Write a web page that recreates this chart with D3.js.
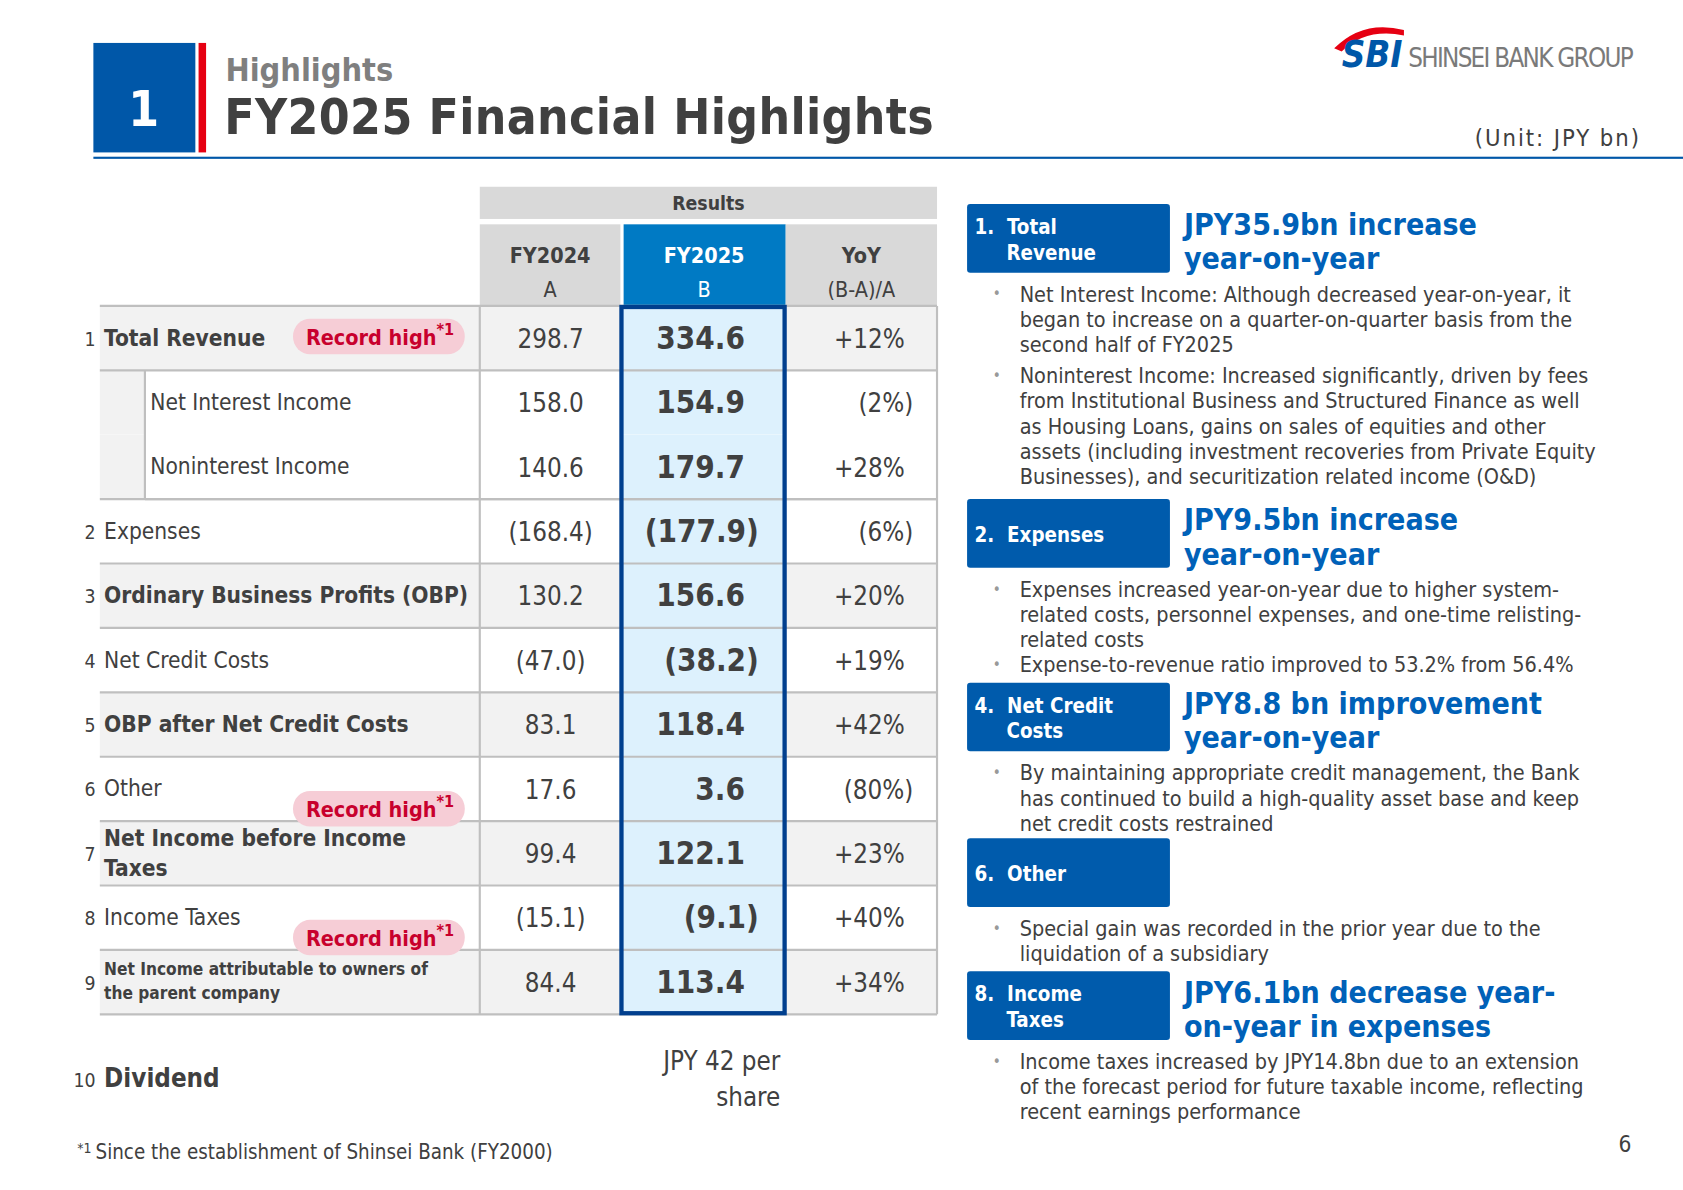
<!DOCTYPE html>
<html><head><meta charset="utf-8">
<script src="https://cdn.jsdelivr.net/npm/d3@7"></script>
<style>body{margin:0;background:#fff}text{font-family:"DejaVu Sans Condensed","DejaVu Sans",sans-serif}</style>
</head><body><svg id="c" width="1683" height="1190"></svg>
<script>
const rowNums=["1","","","2","3","4","5","6","7","8","9"];
const rowLabels=["Total Revenue","Net Interest Income","Noninterest Income","Expenses","Ordinary Business Profits (OBP)","Net Credit Costs","OBP after Net Credit Costs","Other","Net Income before Income|Taxes","Income Taxes","Net Income attributable to owners of|the parent company"];
const rowBold=[1,0,0,0,1,0,1,0,1,0,1];
const fy2024=["298.7","158.0","140.6","(168.4)","130.2","(47.0)","83.1","17.6","99.4","(15.1)","84.4"];
const fy2025=["334.6","154.9","179.7","(177.9)","156.6","(38.2)","118.4","3.6","122.1","(9.1)","113.4"];
const yoy=["+12%","(2%)","+28%","(6%)","+20%","+19%","+42%","(80%)","+23%","+40%","+34%"];
const recordRows=[0,7,9];
const columns=["label","FY2024","FY2025","YoY"];
const notes=[
 {box:["1.  Total","     Revenue"],head:["JPY35.9bn increase","year-on-year"],y:190,gap:5.5,bullets:[["Net Interest Income: Although decreased year-on-year, it","began to increase on a quarter-on-quarter basis from the","second half of FY2025"],["Noninterest Income: Increased significantly, driven by fees","from Institutional Business and Structured Finance as well","as Housing Loans, gains on sales of equities and other","assets (including investment recoveries from Private Equity","Businesses), and securitization related income (O&D)"]]},
 {box:["2.  Expenses"],head:["JPY9.5bn increase","year-on-year"],y:465,gap:0,bullets:[["Expenses increased year-on-year due to higher system-","related costs, personnel expenses, and one-time relisting-","related costs"],["Expense-to-revenue ratio improved to 53.2% from 56.4%"]]},
 {box:["4.  Net Credit","     Costs"],head:["JPY8.8 bn improvement","year-on-year"],y:636,gap:0,bullets:[["By maintaining appropriate credit management, the Bank","has continued to build a high-quality asset base and keep","net credit costs restrained"]]},
 {box:["6.  Other"],head:[],y:781,gap:0,bullets:[["Special gain was recorded in the prior year due to the","liquidation of a subsidiary"]]},
 {box:["8.  Income","     Taxes"],head:["JPY6.1bn decrease year-","on-year in expenses"],y:905,gap:0,bullets:[["Income taxes increased by JPY14.8bn due to an extension","of the forecast period for future taxable income, reflecting","recent earnings performance"]]}
];
const svg=d3.select("#c");
const g=svg.append("g").attr("transform","scale("+(1683/1568)+")");
const txt="#404040";
g.append("rect").attr("x",87).attr("y",40).attr("width",95).attr("height",102).attr("fill","#0057a8");
g.append("rect").attr("x",185).attr("y",40).attr("width",7).attr("height",102).attr("fill","#e60012");
g.append("text").attr("x",134).attr("y",117).attr("text-anchor","middle").attr("fill","#fff").attr("font-size",46).attr("font-weight","bold").text("1");
g.append("text").attr("x",210).attr("y",75).attr("fill","#7f7f7f").attr("font-size",30).attr("font-weight","bold").text("Highlights");
g.append("text").attr("x",209).attr("y",125).attr("fill",txt).attr("font-size",46).attr("font-weight","bold").attr("textLength",661).text("FY2025 Financial Highlights");
g.append("rect").attr("x",87).attr("y",146).attr("width",1481).attr("height",2).attr("fill","#0057a8");
g.append("text").attr("x",1527).attr("y",136).attr("text-anchor","end").attr("fill",txt).attr("font-size",22).attr("textLength",153).text("(Unit: JPY bn)");
g.append("path").attr("d","M1243,45 Q1270,18 1308,28 L1308,33 Q1272,26 1250,48 Z").attr("fill","#e60012");
g.append("text").attr("x",1250).attr("y",62).attr("fill","#0057a8").attr("font-size",34).attr("font-weight","bold").attr("font-style","italic").attr("font-family","Liberation Sans").text("SBI");
g.append("text").attr("x",1312).attr("y",62).attr("fill","#7a7a7a").attr("font-size",24).attr("font-family","Liberation Sans Narrow, Liberation Sans").attr("textLength",210).text("SHINSEI BANK GROUP");
const x=d3.scaleOrdinal().domain(columns).range([93,447,578,732]);
const w={label:354,FY2024:131,FY2025:154,YoY:141};
const y=d3.scaleBand().domain(d3.range(rowLabels.length)).range([285,945]);
const rh=y.bandwidth();
g.append("rect").attr("x",447).attr("y",174).attr("width",426).attr("height",30).attr("fill","#d9d9d9");
g.append("text").attr("x",660).attr("y",196).attr("text-anchor","middle").attr("font-size",18).attr("font-weight","bold").attr("fill",txt).text("Results");
[["FY2024","A"],["FY2025","B"],["YoY","(B-A)/A"]].forEach((h,i)=>{
 const c=columns[i+1];
 g.append("rect").attr("x",x(c)+(i==1?3:0)).attr("y",209).attr("width",w[c]-(i==1?3:0)).attr("height",76).attr("fill",i==1?"#007ac4":"#d9d9d9");
 const cx=x(c)+w[c]/2+(i==1?1:0);
 g.append("text").attr("x",cx).attr("y",245).attr("text-anchor","middle").attr("font-size",20).attr("font-weight","bold").attr("fill",i==1?"#fff":txt).text(h[0]);
 g.append("text").attr("x",cx).attr("y",277).attr("text-anchor","middle").attr("font-size",20).attr("fill",i==1?"#fff":txt).text(h[1]);
});
rowLabels.forEach((lab,i)=>{
 const sub=(i==1||i==2);
 const gray=[0,4,6,8,10].includes(i);
 const top=y(i);
 g.append("rect").attr("x",93).attr("y",top).attr("width",780).attr("height",rh).attr("fill",gray?"#f2f2f2":"#fff");
 if(sub){g.append("rect").attr("x",93).attr("y",top).attr("width",42).attr("height",rh).attr("fill","#f2f2f2");}
 g.append("rect").attr("x",578).attr("y",top).attr("width",154).attr("height",rh).attr("fill","#ddf1fd");
 const cy=top+rh/2;
 g.append("text").attr("x",89).attr("y",cy+7).attr("text-anchor","end").attr("font-size",18).attr("fill",txt).text(rowNums[i]);
 const parts=lab.split("|");
 const fs=i==10?16:21;
 parts.forEach((p,k)=>{
  const off=parts.length==1?7:(k==0?-7:(i==10?16:21));
  g.append("text").attr("x",sub?140:97).attr("y",cy+off).attr("font-size",fs).attr("font-weight",rowBold[i]?"bold":"normal").attr("fill",txt).text(p);
 });
 g.append("text").attr("x",513).attr("y",cy+9).attr("text-anchor","middle").attr("font-size",24).attr("fill",txt).text(fy2024[i]);
 const par=fy2025[i].startsWith("(");
 g.append("text").attr("x",par?707:694).attr("y",cy+10).attr("text-anchor","end").attr("font-size",29).attr("font-weight","bold").attr("fill",txt).text(fy2025[i]);
 const p2=yoy[i].startsWith("(");
 g.append("text").attr("x",p2?851:843).attr("y",cy+9).attr("text-anchor","end").attr("font-size",24).attr("fill",txt).text(yoy[i]);
});
rowLabels.forEach((l,i)=>{ if(i!=2) g.append("line").attr("x1",93).attr("x2",873).attr("y1",y(i)).attr("y2",y(i)).attr("stroke","#bfbfbf").attr("stroke-width",2); });
g.append("line").attr("x1",135).attr("x2",873).attr("y1",y(2)+rh).attr("y2",y(2)+rh).attr("stroke","#bfbfbf").attr("stroke-width",2);
g.append("line").attr("x1",93).attr("x2",873).attr("y1",945).attr("y2",945).attr("stroke","#bfbfbf").attr("stroke-width",2);
g.append("line").attr("x1",135).attr("x2",135).attr("y1",y(1)).attr("y2",y(3)).attr("stroke","#bfbfbf").attr("stroke-width",2);
[447,873].forEach(v=>g.append("line").attr("x1",v).attr("x2",v).attr("y1",285).attr("y2",945).attr("stroke","#bfbfbf").attr("stroke-width",2));
g.append("rect").attr("x",579).attr("y",286).attr("width",152).attr("height",658).attr("fill","none").attr("stroke","#003f8e").attr("stroke-width",4);
recordRows.forEach(i=>{
 const cy=i==0?y(0)+rh/2-2:y(i)+rh-12;
 g.append("rect").attr("x",273).attr("y",cy-16).attr("width",160).attr("height",33).attr("rx",16).attr("fill","#f6cdd6");
 const t=g.append("text").attr("x",285).attr("y",cy+8).attr("font-size",20).attr("font-weight","bold").attr("fill","#c8002d");
 t.append("tspan").text("Record high");
 t.append("tspan").attr("dy",-9).attr("font-size",15).text("*1");
});
g.append("text").attr("x",89).attr("y",1013).attr("text-anchor","end").attr("font-size",18).attr("fill",txt).text("10");
g.append("text").attr("x",97).attr("y",1013).attr("font-size",24).attr("font-weight","bold").attr("fill",txt).text("Dividend");
g.append("text").attr("x",727).attr("y",997).attr("text-anchor","end").attr("font-size",24).attr("fill",txt).text("JPY 42 per");
g.append("text").attr("x",727).attr("y",1030).attr("text-anchor","end").attr("font-size",24).attr("fill",txt).text("share");
const fn=g.append("text").attr("x",72).attr("y",1080).attr("font-size",19).attr("fill",txt);
fn.append("tspan").attr("font-size",13).attr("dy",-6).text("*1 ");
fn.append("tspan").attr("dy",6).text("Since the establishment of Shinsei Bank (FY2000)");
g.append("text").attr("x",1520).attr("y",1073).attr("text-anchor","end").attr("font-size",21).attr("fill",txt).text("6");
notes.forEach(n=>{
 g.append("rect").attr("x",901).attr("y",n.y).attr("width",189).attr("height",64).attr("rx",3).attr("fill","#005bac");
 n.box.forEach((b,k)=>{
  const yy=n.box.length==1?n.y+40:n.y+28+k*24;
  g.append("text").attr("x",908).attr("y",yy).attr("font-size",19).attr("font-weight","bold").attr("fill","#fff").style("white-space","pre").text(b);
 });
 n.head.forEach((h,k)=>g.append("text").attr("x",1103).attr("y",n.y+29+k*32).attr("font-size",28).attr("font-weight","bold").attr("fill","#0061b8").text(h));
 let yy=n.y+91;
 n.bullets.forEach(b=>{
  g.append("text").attr("x",925).attr("y",yy-2).attr("font-size",14).attr("fill","#999").text("•");
  b.forEach(l=>{g.append("text").attr("x",950).attr("y",yy).attr("font-size",20).attr("fill",txt).text(l);yy+=23.5;});
  yy+=n.gap;
 });
});
</script></body></html>
